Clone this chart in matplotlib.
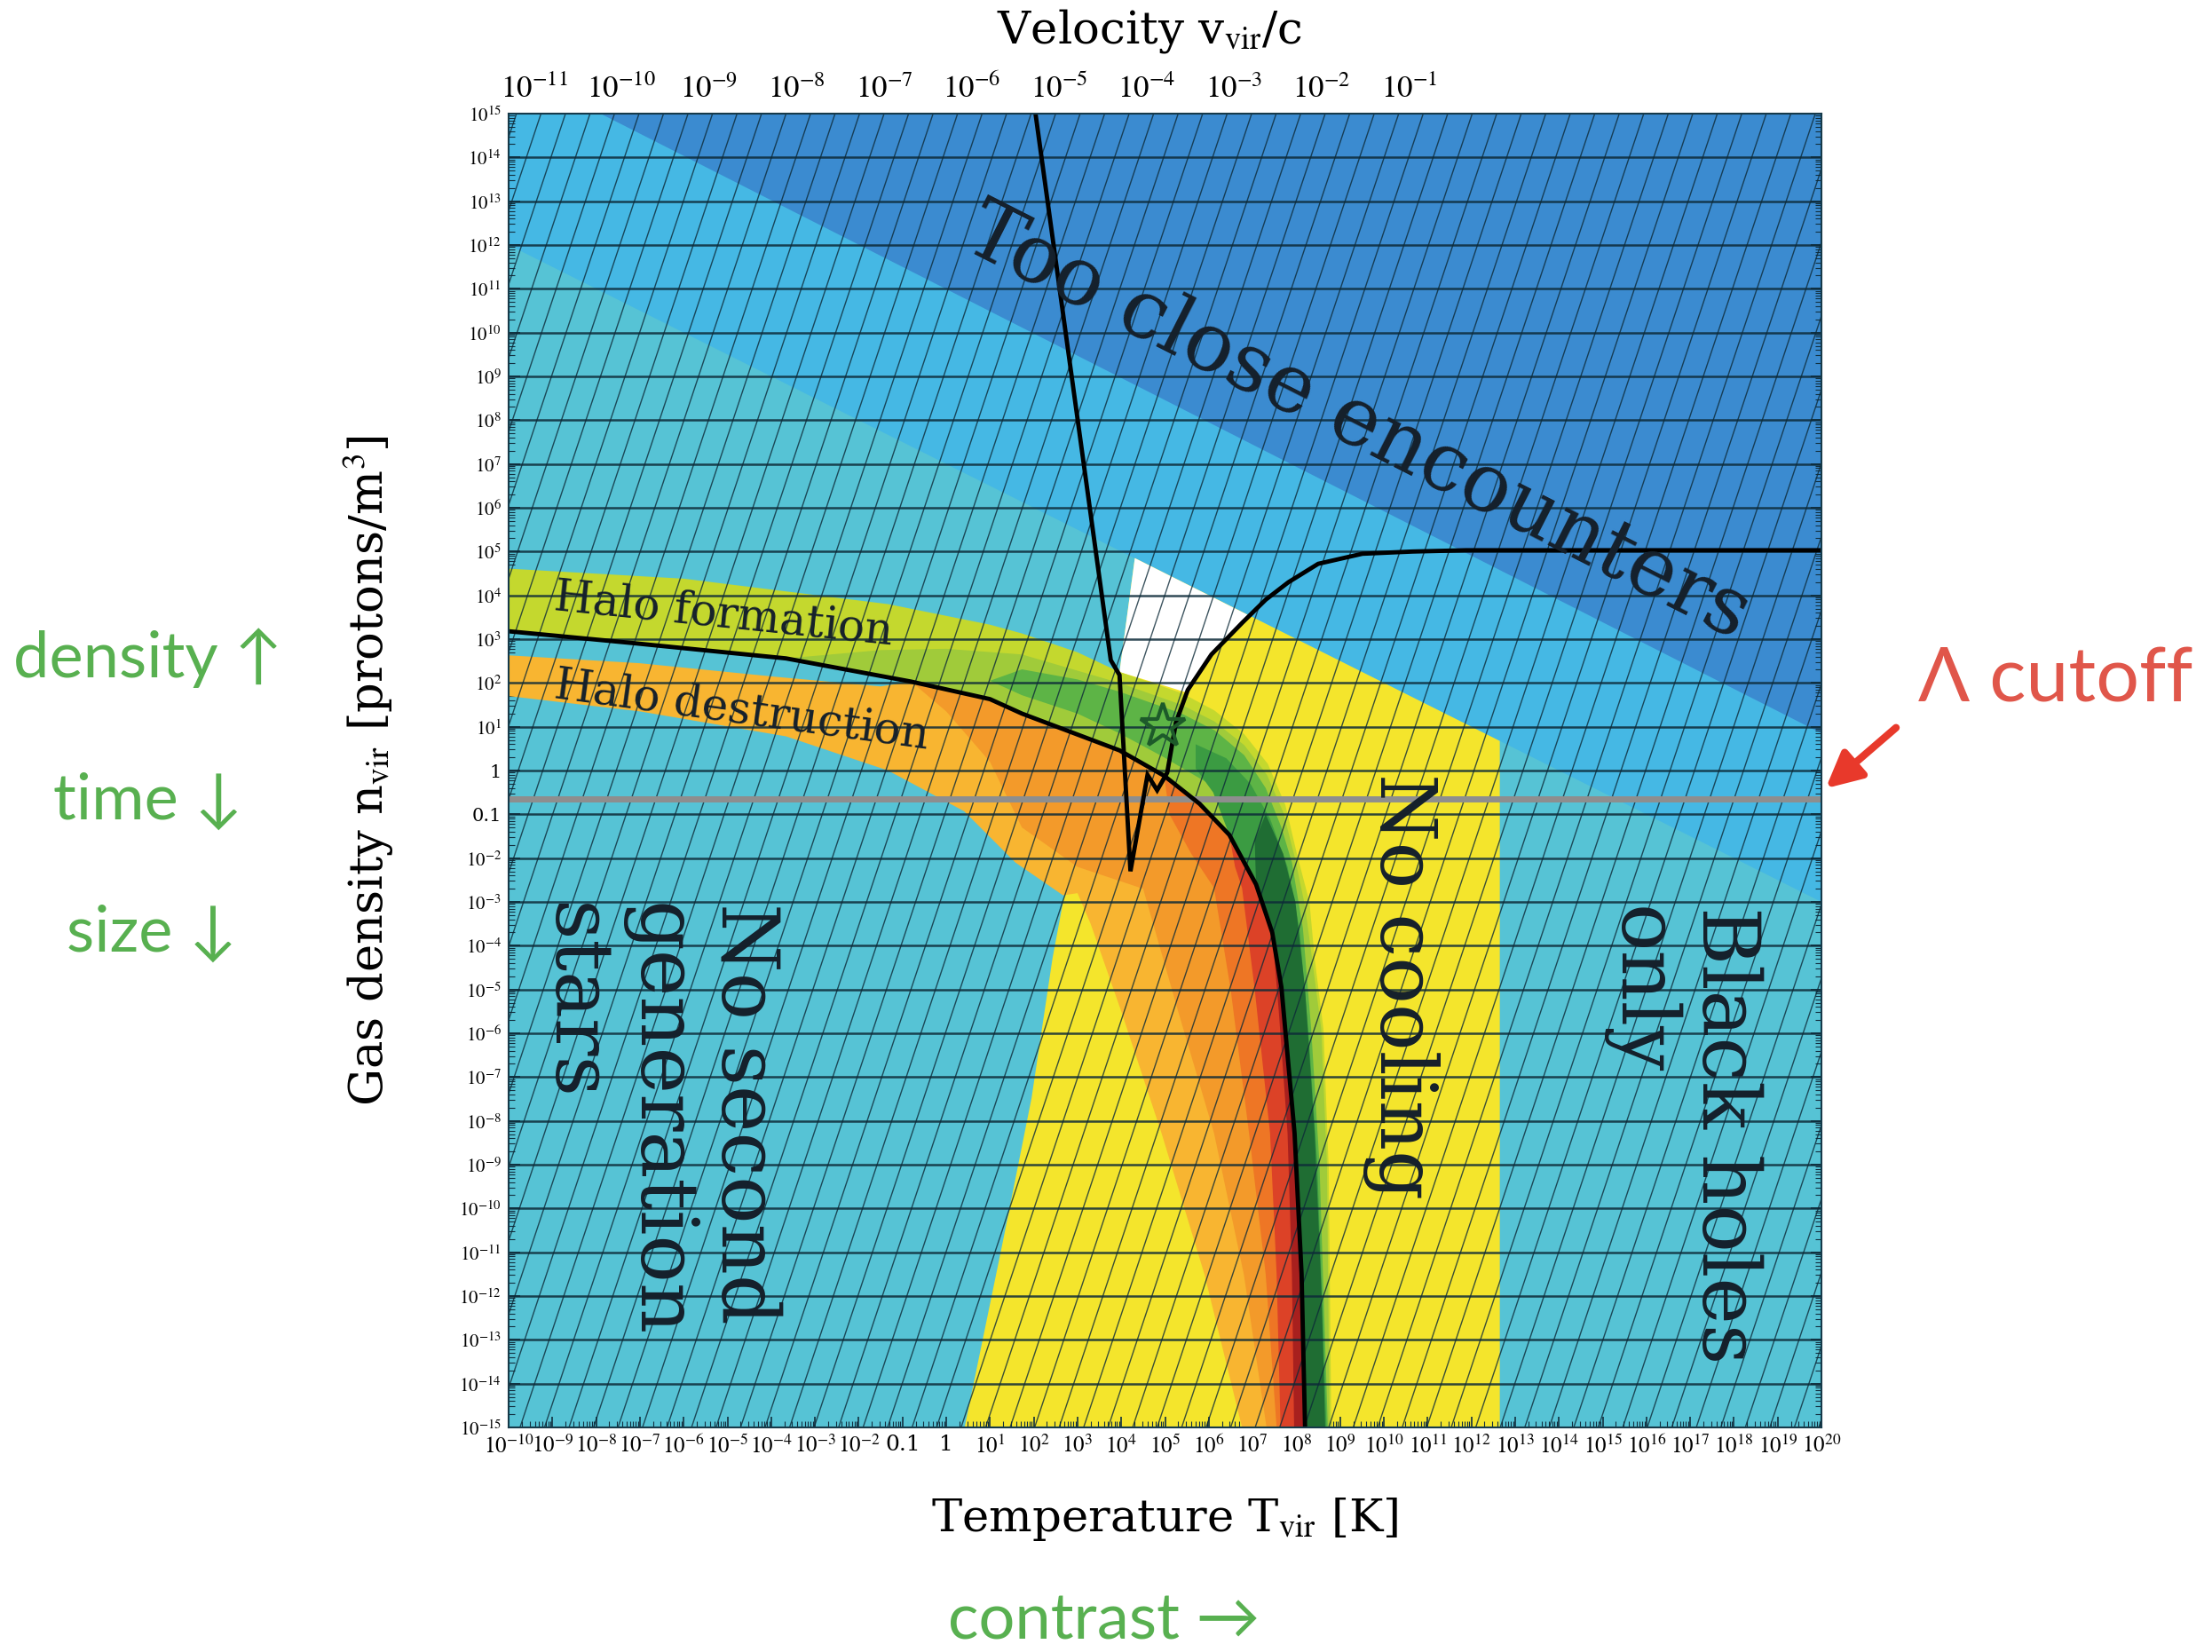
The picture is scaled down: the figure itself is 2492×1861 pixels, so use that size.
import matplotlib
matplotlib.use("Agg")
import matplotlib.pyplot as plt
import numpy as np
from matplotlib.patches import FancyArrowPatch

plt.rcParams['mathtext.fontset'] = 'stix'
plt.rcParams['font.family'] = ['DejaVu Serif']

# all curves below: log10(T_vir / K) and log10(n_vir / protons m^-3)

# straight boundaries of the blue zones
encounter_logT = [-7.9, 20.0]
encounter_logn = [15.0, 0.85]
merger_logT = [-10.0, 20.0]
merger_logn = [12.0, -3.0]

# "No cooling" zone and the white wedge above the halo band
nocool_logT = [0.42, 1.31, 1.95, 2.43, 2.67, 3.5, 3.96, 4.31, 12.65, 12.65]
nocool_logn = [-15.0, -10.68, -7.48, -4.28, -3.0, 0.5, 2.25, 4.85, 0.675, -15.0]
wedge_logT = [4.31, 6.94, 6.06, 5.5, 3.96]
wedge_logn = [4.85, 3.53, 2.65, 1.78, 2.25]

# halo formation / destruction boundary
halo_logT = [-10.0, -7.16, -3.66, -0.8, 1.0, 1.73, 3.96, 4.98, 5.79, 6.47,
             7.08, 7.45, 7.66, 7.96, 8.12, 8.2]
halo_logn = [3.18, 2.91, 2.56, 2.03, 1.63, 1.30, 0.46, -0.12, -0.76, -1.47,
             -2.6, -3.7, -4.95, -8.28, -11.49, -15.0]

# cooling curve
cool_logT = [2.04, 3.76, 3.96, 4.21, 4.6, 4.82, 5.05, 5.25, 5.52, 6.06, 6.77, 7.3,
             7.82, 8.5, 9.51, 10.65, 11.88, 20.0]
cool_logn = [15.0, 2.52, 2.18, -2.3, -0.1, -0.45, -0.05, 1.10, 1.84, 2.65, 3.38, 3.9,
             4.3, 4.72, 4.95, 5.0, 5.03, 5.03]

# our universe
star_logT, star_logn = 4.95, 1.02
# Lambda cutoff density
cutoff_logn = -0.65

# formation contours (outer edge, then back along the halo curve)
form1_logT = [-10.0, -5.99, -1.33, 1.0, 1.73, 3.0, 3.96, 5.38, 6.13, 6.81, 7.35,
              7.75, 8.02, 8.3, 8.42, 8.62, 8.74, 8.8]
form1_logn = [4.61, 4.38, 3.80, 3.33, 3.13, 2.7, 2.25, 1.77, 1.37, 0.83, 0.15,
              -0.79, -1.93, -3.0, -4.3, -5.9, -9.08, -15.0]
form2_logT = [-3.66, -1.5, 0.0, 1.73, 3.96, 5.38, 6.13, 6.81, 7.33, 7.7, 7.97,
              8.2, 8.36, 8.57, 8.7, 8.76]
form2_logn = [2.56, 2.75, 2.78, 2.65, 2.0, 1.5, 1.12, 0.58, -0.1, -0.95, -2.0,
              -3.1, -4.3, -5.9, -9.0, -15.0]
form3_logT = [1.0, 1.73, 3.0, 3.96, 5.38, 6.13, 6.81, 7.3, 7.66, 7.9, 8.15, 8.34,
              8.53, 8.72]
form3_logn = [2.05, 2.31, 2.08, 1.8, 1.3, 0.92, 0.35, -0.4, -1.3, -2.1, -3.6,
              -5.9, -9.0, -15.0]
form3_back_logT = [6.75, 6.0, 4.98, 3.96, 3.0, 1.73]
form3_back_logn = [-1.3, -0.3, 0.3, 0.85, 1.3, 1.72]
form4_logT = [5.7, 6.4, 6.95, 7.4, 7.8, 8.07, 8.28, 8.48, 8.69]
form4_logn = [0.6, 0.28, -0.3, -1.1, -2.2, -3.6, -6.0, -9.0, -15.0]
form4_back_logT = [6.1, 5.7]
form4_back_logn = [-0.5, 0.05]
form5_logT = [7.3, 7.7, 7.98, 8.2, 8.42, 8.58, 8.66]
form5_logn = [-1.0, -1.9, -3.0, -5.0, -8.28, -12.0, -15.0]
form5_back_logT = [7.05]
form5_back_logn = [-1.6]

# destruction contours
dest1_top_logT = [-10.0, -7.0, -4.0, -1.5]
dest1_top_logn = [2.63, 2.45, 2.15, 1.92]
dest1_low_logT = [6.76, 5.9, 4.92, 4.0, 3.3, 3.0, 2.67, 1.58, 0.41, -1.33, -3.66,
                  -7.0, -10.0]
dest1_low_logn = [-15.0, -11.5, -8.28, -5.5, -3.5, -2.8, -2.85, -2.1, -0.93, 0.0,
                  0.78, 1.35, 1.70]
dest2_logT = [-0.8, 0.0, 1.0, 1.73, 3.0, 4.5, 5.3, 6.12, 6.8, 7.32]
dest2_logn = [2.03, 1.35, 0.2, -1.3, -2.2, -2.7, -5.5, -8.28, -11.5, -15.0]
dest3_logT = [4.98, 5.1, 5.6, 6.12, 6.5, 6.92, 7.3, 7.55]
dest3_logn = [-0.12, -1.0, -1.9, -2.68, -5.0, -8.28, -11.5, -15.0]
dest4_logT = [6.47, 6.6, 6.76, 7.05, 7.4, 7.55, 7.64]
dest4_logn = [-1.47, -2.2, -2.68, -5.0, -8.28, -11.5, -15.0]
dest5_logT = [7.45, 7.6, 7.8, 7.9, 7.95]
dest5_logn = [-3.7, -5.5, -8.28, -11.5, -15.0]

# axis ticks
T_exponents = list(range(-10, 21))
n_exponents = list(range(-15, 16))
v_exponents = list(range(-11, 0))
T_per_v2 = 10 ** 12.58          # T_vir at v_vir = c


def exp_label(k):
    if k == 0:
        return '1'
    if k == -1:
        return '0.1'
    return r'$10^{%d}$' % k


def poly(ax, T, n, color, z=2):
    ax.fill(10.0 ** np.asarray(T), 10.0 ** np.asarray(n), color=color, lw=0, zorder=z)


def band(ax, T, n, start, color, back_T=(), back_n=()):
    # outer edge, back up the halo curve to index `start`, then optional extra edge
    bt = list(T) + halo_logT[start:][::-1] + list(back_T)
    bn = list(n) + halo_logn[start:][::-1] + list(back_n)
    poly(ax, bt, bn, color)


fig = plt.figure(figsize=(24.92, 18.61), dpi=100)
ax = fig.add_axes([573 / 2492, 1 - 1608 / 1861, 1479 / 2492, 1480 / 1861])
ax.set_xscale('log')
ax.set_yscale('log')
ax.set_xlim(1e-10, 1e20)
ax.set_ylim(1e-15, 1e15)
ax.set_facecolor('#56c3d5')

# blue zones
poly(ax, merger_logT + [20.0, -10.0], merger_logn + [15.0, 15.0], '#45b8e4', 1)
poly(ax, encounter_logT + [20.0], encounter_logn + [15.0], '#3b8bd0', 1)
poly(ax, nocool_logT, nocool_logn, '#f4e52c', 1.5)
poly(ax, wedge_logT, wedge_logn, 'white', 1.6)

# halo formation (green) above the curve
band(ax, form1_logT, form1_logn, 0, '#c4d82e')
band(ax, form2_logT, form2_logn, 2, '#a0cb3a')
band(ax, form3_logT, form3_logn, 10, '#5db446', form3_back_logT, form3_back_logn)
band(ax, form4_logT, form4_logn, 9, '#3b9b42', form4_back_logT, form4_back_logn)
band(ax, form5_logT, form5_logn, 10, '#1f6d33', form5_back_logT, form5_back_logn)

# halo destruction (orange/red) below the curve
poly(ax, dest1_top_logT + halo_logT[3:] + dest1_low_logT,
     dest1_top_logn + halo_logn[3:] + dest1_low_logn, '#f8b531')
band(ax, dest2_logT, dest2_logn, 3, '#f39a2a')
band(ax, dest3_logT, dest3_logn, 7, '#ee7625')
band(ax, dest4_logT, dest4_logn, 9, '#dc4227')
band(ax, dest5_logT, dest5_logn, 11, '#a8201e')

# grid: density decades and slanted lines of constant halo mass
grid_col = '#0d2a38'
for k in range(-14, 15):
    ax.axhline(10.0 ** k, color=grid_col, lw=1.8, alpha=0.85, zorder=3)
for t0 in np.arange(-9.74 - 0.56 * 18, 20.5, 0.56):
    ax.plot([10.0 ** t0, 10.0 ** (t0 + 10)], [1e-15, 1e15], color=grid_col,
            lw=1.0, alpha=0.8, zorder=3)

# Lambda cutoff
ax.axhline(10.0 ** cutoff_logn, color='#8e8e8e', lw=5, zorder=4)

# curves
ax.plot(10.0 ** np.array(halo_logT), 10.0 ** np.array(halo_logn), color='black',
        lw=3.5, zorder=5, solid_capstyle='butt')
ax.plot(10.0 ** np.array(cool_logT), 10.0 ** np.array(cool_logn), color='black',
        lw=3.5, zorder=5, solid_joinstyle='miter')
ax.plot(10.0 ** star_logT, 10.0 ** star_logn, marker='*', ms=38, mfc='none',
        mec='#1d5a2a', mew=3, zorder=6)

# region labels
lab = dict(color='#15202b', family='DejaVu Serif', rotation_mode='anchor', zorder=7)
ax.text(10 ** 9.39, 10 ** 7.93, 'Too close encounters', fontsize=66, rotation=-26.9,
        ha='center', va='center', **lab)
ax.text(10 ** 10.39, 10 ** -0.06, 'No cooling', fontsize=63, rotation=-90,
        ha='left', va='center', **lab)
ax.text(10 ** -6.57, 10 ** -3.02, 'No second\ngeneration\nstars', fontsize=64,
        rotation=-90, ha='left', va='center', linespacing=1.12, **lab)
ax.text(10 ** 16.8, 10 ** -3.1, 'Black holes\nonly', fontsize=64, rotation=-90,
        ha='left', va='center', linespacing=1.12, **lab)
ax.text(10 ** -8.95, 10 ** 3.96, 'Halo formation', fontsize=36, rotation=-5.9,
        ha='left', va='center', **lab)
ax.text(10 ** -8.95, 10 ** 1.94, 'Halo destruction', fontsize=36, rotation=-7.8,
        ha='left', va='center', **lab)

# ticks
ax.set_xticks([10.0 ** k for k in T_exponents])
ax.set_xticklabels([exp_label(k) for k in T_exponents], fontsize=18)
ax.set_yticks([10.0 ** k for k in n_exponents])
ax.set_yticklabels([exp_label(k) for k in n_exponents], fontsize=15)
ax.xaxis.set_minor_locator(matplotlib.ticker.LogLocator(10, subs=np.arange(2, 10), numticks=400))
ax.yaxis.set_minor_locator(matplotlib.ticker.LogLocator(10, subs=np.arange(2, 10), numticks=400))
ax.xaxis.set_minor_formatter(matplotlib.ticker.NullFormatter())
ax.yaxis.set_minor_formatter(matplotlib.ticker.NullFormatter())
ax.tick_params(which='both', direction='in', color='#123040', right=True, top=False)
ax.tick_params(which='major', length=9, width=1.2, pad=6)
ax.tick_params(which='minor', length=5, width=0.8)
for s in ax.spines.values():
    s.set_color('#163a4a')
    s.set_linewidth(1.5)
    s.set_zorder(8)

ax.set_xlabel(r'Temperature T$_{\rm vir}$ [K]', fontsize=37)
ax.xaxis.set_label_coords(0.5, -0.052)
ax.set_ylabel(r'Gas density n$_{\rm vir}$ [protons/m$^3$]', fontsize=38)
ax.yaxis.set_label_coords(-0.086, 0.5)

vel = ax.secondary_xaxis('top', functions=(lambda T: np.sqrt(np.clip(T, 1e-300, None) / T_per_v2),
                                           lambda v: v ** 2 * T_per_v2))
vel.set_xticks([10.0 ** k for k in v_exponents])
vel.set_xticklabels([r'$10^{%d}$' % k for k in v_exponents], fontsize=25)
vel.xaxis.set_minor_locator(matplotlib.ticker.NullLocator())
vel.tick_params(length=0, pad=8)
vel.spines['top'].set_visible(False)
fig.text(0.5197, 0.981, r'Velocity v$_{\rm vir}$/c', fontsize=37, ha='center', va='center')

# annotations around the plot
green = '#58b050'
side = dict(color=green, family=['Lato', 'DejaVu Sans'], fontsize=52, va='center', ha='left')
fig.text(0.006, 0.602, 'density \u2191', **side)
fig.text(0.024, 0.515, 'time \u2193', **side)
fig.text(0.030, 0.435, 'size \u2193', **side)
fig.text(0.4286, 0.019, 'contrast \u2192', **side)
fig.text(0.867, 0.588, '\u039b cutoff', color='#e0564a', family=['Lato', 'DejaVu Sans'],
         fontsize=62, va='center', ha='left')
fig.add_artist(FancyArrowPatch((0.858, 0.5605), (0.8245, 0.5218), transform=fig.transFigure,
                               arrowstyle='-|>', mutation_scale=60, lw=6, color='#e8392b'))

fig.savefig('out.png', dpi=100)
